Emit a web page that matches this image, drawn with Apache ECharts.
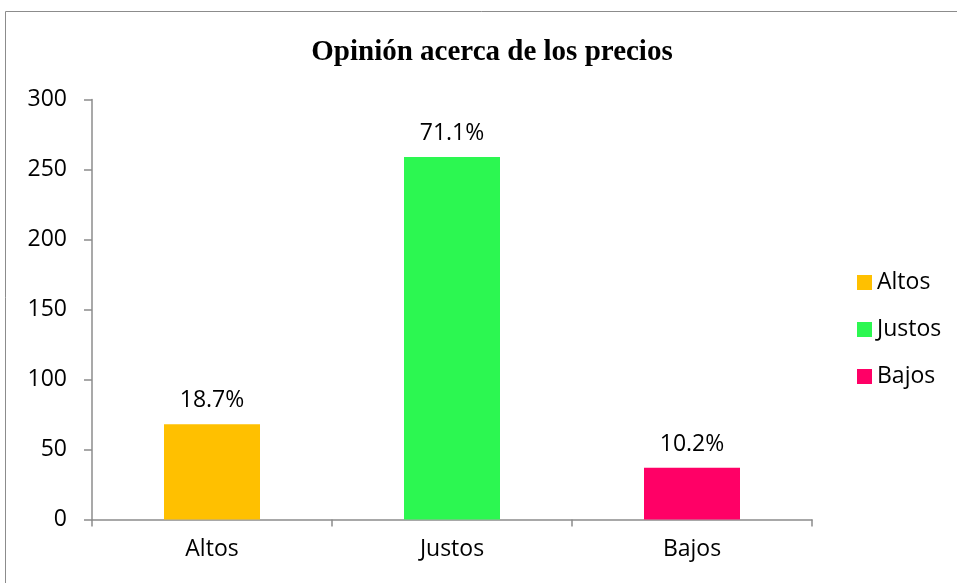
<!DOCTYPE html>
<html>
<head>
<meta charset="utf-8">
<script src="https://cdn.jsdelivr.net/npm/echarts@6/dist/echarts.min.js"></script>
<style>
  html, body { margin: 0; padding: 0; background: #fff; }
  #main { width: 957px; height: 583px; }
</style>
</head>
<body>
<div id="main"></div>
<script>
var categories = ["Altos", "Justos", "Bajos"];
var values = [68, 259, 37];
var pctLabels = ["18.7%", "71.1%", "10.2%"];
var colors = ["#FFC000", "#2CF751", "#FF0066"];
var yTicks = { min: 0, max: 300, interval: 50 };

var myChart = echarts.init(document.getElementById("main"));

var font = "'Open Sans', 'Noto Sans', sans-serif";

// una serie por categoría para que la leyenda muestre cada barra
var series = categories.map(function (name, i) {
  return {
    name: name,
    type: "bar",
    stack: "total",
    barWidth: "40%",
    itemStyle: { color: colors[i] },
    label: {
      show: true,
      position: "top",
      distance: 12,
      color: "#000",
      fontFamily: font,
      fontSize: 23,
      formatter: function () { return pctLabels[i]; },
    },
    data: values.map(function (v, j) { return j === i ? v : "-"; }),
  };
});

var option = {
  animation: false,
  title: {
    text: "Opinión acerca de los precios",
    left: 487,
    top: 33,
    textAlign: "center",
    textStyle: {
      fontFamily: "'Liberation Serif', 'Times New Roman', serif",
      fontWeight: "bold",
      fontSize: 29,
      color: "#000",
    },
  },
  legend: {
    orient: "vertical",
    left: 852,
    top: 266,
    itemWidth: 15,
    itemHeight: 15,
    itemGap: 24,
    icon: "rect",
    data: categories,
    textStyle: { fontFamily: font, fontSize: 23, color: "#000" },
  },
  graphic: [
    {
      type: "rect",
      shape: { x: 5.5, y: 11.5, width: 1000, height: 1000 },
      style: { fill: "none", stroke: "#8c8c8c", lineWidth: 1 },
      silent: true,
    },
  ],
  grid: { left: 92, right: 145, top: 99.5, bottom: 63.5 },
  xAxis: {
    type: "category",
    data: categories,
    axisLine: { lineStyle: { color: "#8c8c8c", width: 1.5 } },
    axisTick: { show: true, length: 7, lineStyle: { color: "#8c8c8c", width: 1.5 } },
    axisLabel: { margin: 18, color: "#000", fontFamily: font, fontSize: 23 },
  },
  yAxis: {
    type: "value",
    min: yTicks.min,
    max: yTicks.max,
    interval: yTicks.interval,
    axisLine: { show: true, lineStyle: { color: "#8c8c8c", width: 1.5 } },
    axisTick: { show: true, length: 8, lineStyle: { color: "#8c8c8c", width: 1.5 } },
    splitLine: { show: false },
    axisLabel: { margin: 25, color: "#000", fontFamily: font, fontSize: 23 },
  },
  series: series,
};

myChart.setOption(option);
</script>
</body>
</html>
